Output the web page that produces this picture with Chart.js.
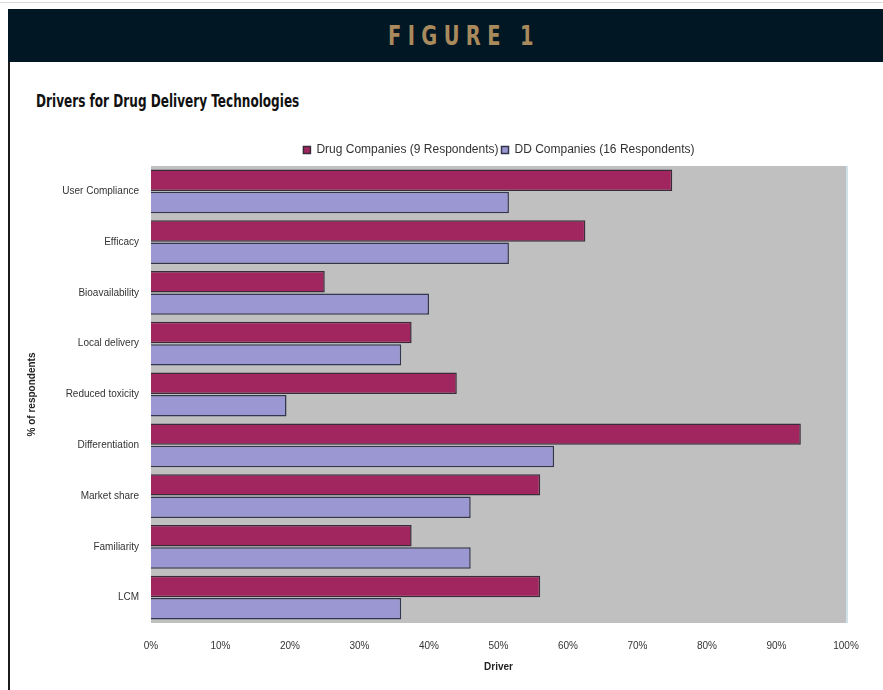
<!DOCTYPE html>
<html>
<head>
<meta charset="utf-8">
<script src="https://cdn.jsdelivr.net/npm/chart.js@4"></script>
<style>
    html, body {
        margin: 0;
        padding: 0;
        background: #ffffff;
        width: 883px;
        height: 690px;
        overflow: hidden;
        position: relative;
        font-family: "Liberation Sans", Arial, sans-serif;
    }
    #topRule {
        position: absolute;
        left: 0;
        top: 2px;
        width: 883px;
        height: 1px;
        background: #d8d8d8;
    }
    #header {
        position: absolute;
        left: 8px;
        top: 9px;
        width: 875px;
        height: 53px;
        background: #021724;
    }
    #headerText {
        position: absolute;
        left: 380px;
        top: 12px;
        color: #a98a5d;
        font-family: "DejaVu Sans Condensed", "Liberation Sans", sans-serif;
        font-weight: bold;
        font-size: 27px;
        line-height: 30px;
        letter-spacing: 8px;
        transform: scaleX(0.8);
        transform-origin: left top;
        white-space: nowrap;
    }
    #leftRule {
        position: absolute;
        left: 8px;
        top: 62px;
        width: 2px;
        height: 628px;
        background: #1a1a1a;
    }
    #title {
        position: absolute;
        left: 36px;
        top: 91px;
        font-family: "DejaVu Sans Condensed", "Liberation Sans", sans-serif;
        font-weight: bold;
        font-size: 17px;
        color: #111111;
        transform: scaleX(0.79);
        transform-origin: left top;
        white-space: nowrap;
    }
    #chartBox {
        position: absolute;
        left: 20px;
        top: 141px;
        width: 850px;
        height: 532px;
    }
</style>
</head>
<body>
<div id="topRule"></div>
<div id="header"><div id="headerText">FIGURE 1</div></div>
<div id="leftRule"></div>
<div id="title">Drivers for Drug Delivery Technologies</div>
<div id="chartBox"><canvas id="driversChart"></canvas></div>

<script>
const drivers = [
    "User Compliance",
    "Efficacy",
    "Bioavailability",
    "Local delivery",
    "Reduced toxicity",
    "Differentiation",
    "Market share",
    "Familiarity",
    "LCM",
];

const drugCompanies = [75, 62.5, 25, 37.5, 44, 93.5, 56, 37.5, 56];
const ddCompanies = [51.5, 51.5, 40, 36, 19.5, 58, 46, 46, 36];

const seriesLabels = ["Drug Companies (9 Respondents)", "DD Companies (16 Respondents)"];

const RED_COLOR = "#a1265f";
const BLUE_COLOR = "#9b97d3";
const PLOT_BG = "#c0c0c0";
const LEGEND_SHIFT = 66;

let plotBackground = {
    id: "plotBackground",
    afterLayout: function (chart) {
        // the legend sits over the plot, not over the whole canvas
        chart.legend.left += LEGEND_SHIFT;
        chart.legend.right += LEGEND_SHIFT;
    },
    beforeDraw: function (chart) {
        let area = chart.chartArea;
        let ctx = chart.ctx;
        ctx.save();
        ctx.fillStyle = PLOT_BG;
        ctx.fillRect(area.left, area.top, area.right - area.left, area.bottom - area.top);
        ctx.strokeStyle = "#cfe0e8";
        ctx.lineWidth = 2;
        ctx.beginPath();
        ctx.moveTo(area.right + 1, area.top);
        ctx.lineTo(area.right + 1, area.bottom);
        ctx.stroke();
        ctx.restore();
    },
};

let chartCanvas = document.getElementById("driversChart");
let driversChart = new Chart(chartCanvas, {
    type: "bar",
    data: {
        labels: drivers,
        datasets: [
            {
                label: seriesLabels[0],
                data: drugCompanies,
                backgroundColor: RED_COLOR,
                borderColor: "#3b2a3a",
                borderWidth: 1.5,
            },
            {
                label: seriesLabels[1],
                data: ddCompanies,
                backgroundColor: BLUE_COLOR,
                borderColor: "#33374d",
                borderWidth: 1.5,
            },
        ],
    },
    plugins: [plotBackground],
    options: {
        indexAxis: "y",
        responsive: true,
        maintainAspectRatio: false,
        animation: {
            duration: 0,
        },
        layout: {
            padding: {
                left: 0,
                right: 24,
                top: 0,
                bottom: 0,
            },
        },
        datasets: {
            bar: {
                categoryPercentage: 0.88,
                barPercentage: 0.96,
            },
        },
        plugins: {
            legend: {
                position: "top",
                labels: {
                    boxWidth: 7,
                    boxHeight: 7,
                    padding: 3,
                    color: "#333333",
                    font: {
                        family: "Liberation Sans",
                        size: 12,
                    },
                },
            },
            tooltip: {
                enabled: false,
            },
        },
        scales: {
            x: {
                min: 0,
                max: 100,
                grid: {
                    display: false,
                },
                border: {
                    display: false,
                },
                ticks: {
                    stepSize: 10,
                    padding: 9,
                    color: "#333333",
                    font: {
                        family: "Liberation Sans",
                        size: 10,
                    },
                    callback: function (value) {
                        return value + "%";
                    },
                },
                title: {
                    display: true,
                    text: "Driver",
                    color: "#222222",
                    padding: 0,
                    font: {
                        family: "Liberation Sans",
                        size: 10,
                        weight: "bold",
                    },
                },
            },
            y: {
                grid: {
                    display: false,
                },
                border: {
                    display: false,
                },
                ticks: {
                    color: "#333333",
                    padding: 4,
                    font: {
                        family: "Liberation Sans",
                        size: 10,
                    },
                },
                title: {
                    display: true,
                    text: "% of respondents",
                    color: "#222222",
                    padding: 6,
                    font: {
                        family: "Liberation Sans",
                        size: 10,
                        weight: "bold",
                    },
                },
                afterFit: function (axis) {
                    axis.width = 131;
                },
            },
        },
    },
});
</script>
</body>
</html>
